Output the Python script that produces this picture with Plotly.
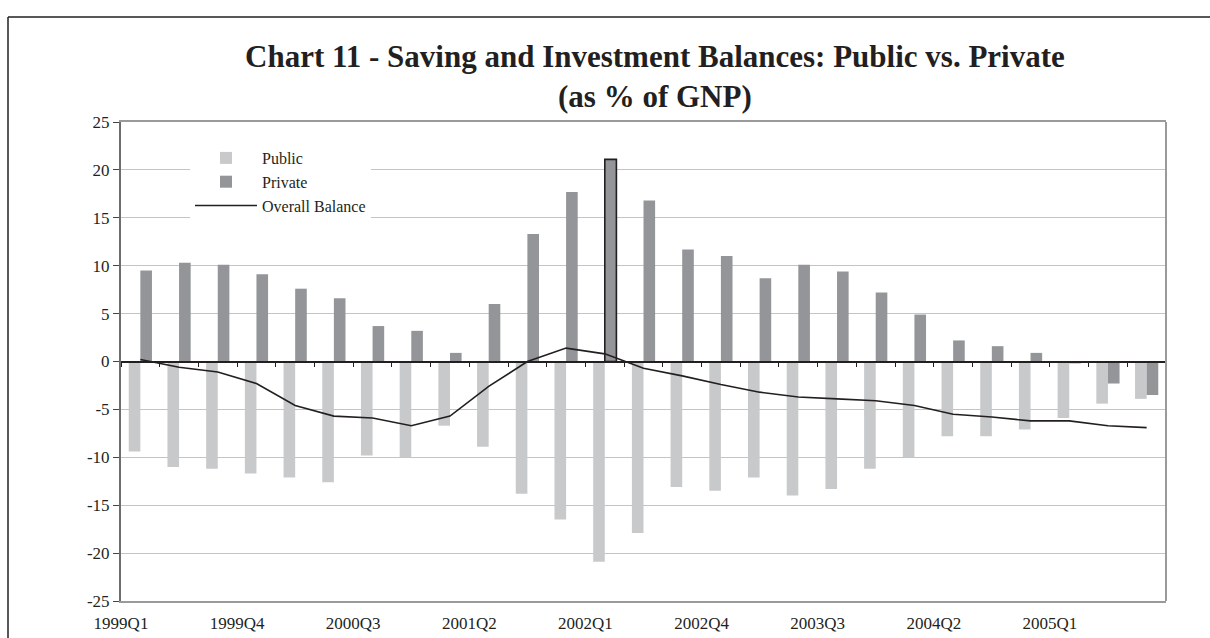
import plotly.graph_objects as go

# Quarterly series, 1999Q1 .. 2005Q3 (% of GNP)
quarters = [
    "1999Q1", "1999Q2", "1999Q3", "1999Q4",
    "2000Q1", "2000Q2", "2000Q3", "2000Q4",
    "2001Q1", "2001Q2", "2001Q3", "2001Q4",
    "2002Q1", "2002Q2", "2002Q3", "2002Q4",
    "2003Q1", "2003Q2", "2003Q3", "2003Q4",
    "2004Q1", "2004Q2", "2004Q3", "2004Q4",
    "2005Q1", "2005Q2", "2005Q3",
]
public = [
    -9.4, -11.0, -11.2, -11.7, -12.1, -12.6, -9.8, -10.0, -6.7,
    -8.9, -13.8, -16.5, -20.9, -17.9, -13.1, -13.5, -12.1, -14.0,
    -13.3, -11.2, -10.0, -7.8, -7.8, -7.1, -5.9, -4.4, -3.9,
]
private = [
    9.5, 10.3, 10.1, 9.1, 7.6, 6.6, 3.7, 3.2, 0.9,
    6.0, 13.3, 17.7, 21.1, 16.8, 11.7, 11.0, 8.7, 10.1,
    9.4, 7.2, 4.9, 2.2, 1.6, 0.9, -0.2, -2.3, -3.5,
]
overall = [
    0.2, -0.6, -1.1, -2.3, -4.6, -5.7, -5.9, -6.7, -5.7,
    -2.6, 0.0, 1.4, 0.8, -0.7, -1.5, -2.4, -3.2, -3.7,
    -3.9, -4.1, -4.6, -5.5, -5.8, -6.2, -6.2, -6.7, -6.9,
]
y_ticks = [-25, -20, -15, -10, -5, 0, 5, 10, 15, 20, 25]
label_every = 3
highlight = "2002Q1"

idx = list(range(len(quarters)))
label_pos = [i - 0.5 for i in idx[::label_every]]
label_txt = quarters[::label_every]
boundaries = [i - 0.5 for i in idx] + [len(idx) - 0.5]
xrange_ = [-0.5, len(idx) - 0.5]

TEXT = "#231f20"
SERIF = "Liberation Serif, Times New Roman, serif"

line_w = [1.6 if q == highlight else 0 for q in quarters]

fig = go.Figure()
fig.add_trace(go.Bar(
    x=idx, y=public, name="Public",
    marker=dict(color="#c8c9cb", line=dict(width=0)),
))
fig.add_trace(go.Bar(
    x=idx, y=private, name="Private",
    marker=dict(color="#939598", line=dict(width=line_w, color=TEXT)),
))
fig.add_trace(go.Scatter(
    x=idx, y=overall, name="Overall Balance", mode="lines",
    line=dict(color=TEXT, width=1.6),
    xaxis="x2", yaxis="y",
))

L, R, T, B = 121, 44, 122, 37
W, H = 1210, 638
pw, ph = W - L - R, H - T - B

def px_x(p):
    return (p - L) / pw

def px_y(p):
    return (H - B - p) / ph

fig.update_layout(
    width=W, height=H,
    margin=dict(l=L, r=R, t=T, b=B),
    paper_bgcolor="white", plot_bgcolor="white",
    barmode="group", bargap=0.4, bargroupgap=0,
    font=dict(family=SERIF, color=TEXT, size=17),
    showlegend=True,
    legend=dict(
        x=px_x(190), y=px_y(141), xanchor="left", yanchor="top",
        bgcolor="white", borderwidth=0,
        font=dict(family=SERIF, size=16, color=TEXT),
        itemwidth=62, tracegroupgap=0,
    ),
    xaxis=dict(
        range=xrange_, tickmode="array", tickvals=label_pos, ticktext=label_txt,
        ticks="", showgrid=False, zeroline=False, automargin=False,
        showline=True, linecolor="#9a9a9a", linewidth=2, mirror=True,
        ticklabelstandoff=6,
        tickfont=dict(family=SERIF, size=17, color=TEXT),
    ),
    xaxis2=dict(
        range=xrange_, overlaying="x", anchor="free", position=0.5,
        tickmode="array", tickvals=boundaries, showticklabels=False,
        ticks="outside", ticklen=5, tickwidth=1, tickcolor=TEXT,
        showline=True, linecolor=TEXT, linewidth=1.5,
        showgrid=False, zeroline=False, automargin=False,
    ),
    yaxis=dict(
        range=[-25, 25], tickmode="array", tickvals=y_ticks,
        ticktext=[str(v) for v in y_ticks],
        showgrid=True, gridcolor="#c4c4c4", gridwidth=1.2,
        zeroline=False, automargin=False,
        showline=True, linecolor="#6d6d6d", linewidth=2,
        ticks="outside", ticklen=6, tickcolor="#444444", tickwidth=1,
        tickfont=dict(family=SERIF, size=17, color=TEXT),
    ),
    shapes=[
        # right border of the plotting area
        dict(type="line", xref="paper", yref="paper", x0=1, x1=1, y0=0, y1=1,
             line=dict(color="#9a9a9a", width=2)),
        # outer frame lines
        dict(type="line", xref="paper", yref="paper",
             x0=px_x(8), x1=px_x(W + 5), y0=px_y(17), y1=px_y(17),
             line=dict(color=TEXT, width=1.5)),
        dict(type="line", xref="paper", yref="paper",
             x0=px_x(8), x1=px_x(8), y0=px_y(17), y1=px_y(H + 5),
             line=dict(color=TEXT, width=1.5)),
    ],
    annotations=[
        dict(
            text="<b>Chart 11 - Saving and Investment Balances: Public vs. Private<br>(as % of GNP)</b>",
            xref="paper", yref="paper", x=px_x(655), y=px_y(37),
            xanchor="center", yanchor="top", showarrow=False,
            font=dict(family=SERIF, size=31, color=TEXT),
        )
    ],
)

fig.write_html("out.html")
